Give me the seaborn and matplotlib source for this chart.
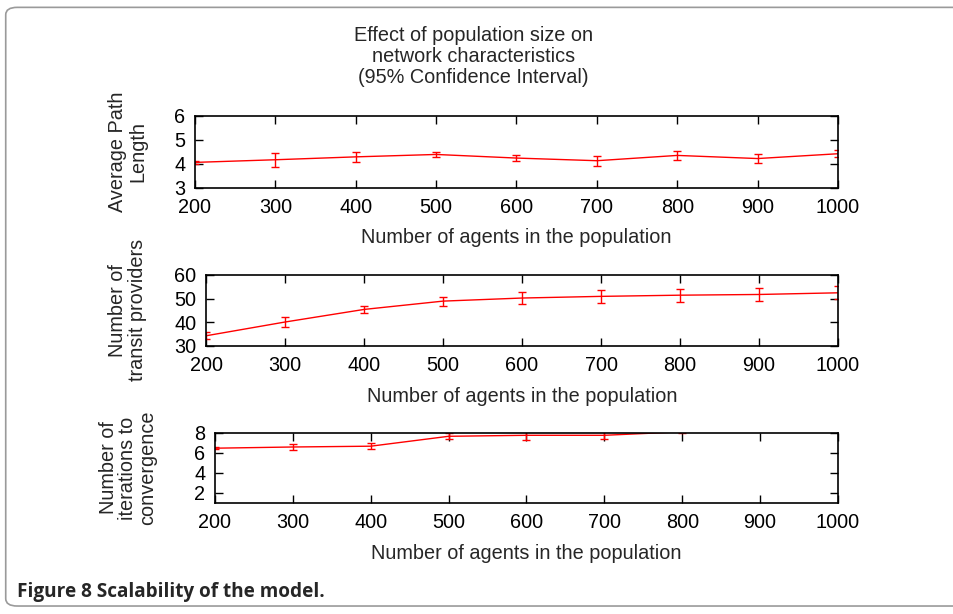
import numpy as np
import pandas as pd
import seaborn as sns
import matplotlib.pyplot as plt
from matplotlib.patches import FancyBboxPatch

# values
agents = [200, 300, 400, 500, 600, 700, 800, 900, 1000]

path_len = [4.06, 4.17, 4.29, 4.39, 4.24, 4.13, 4.35, 4.22, 4.42]
path_err = [0.06, 0.30, 0.21, 0.10, 0.12, 0.21, 0.17, 0.20, 0.15]

transit = [34.3, 40.1, 45.4, 48.9, 50.2, 50.9, 51.4, 51.7, 52.4]
transit_err = [1.5, 2.1, 1.6, 1.9, 2.4, 2.6, 2.7, 2.7, 2.8]

iters = [6.48, 6.60, 6.68, 7.67, 7.77, 7.77, 8.12, 8.50, 8.70]
iters_err = [0.10, 0.26, 0.28, 0.30, 0.45, 0.38, 0.10, 0.30, 0.30]

xticks = [200, 300, 400, 500, 600, 700, 800, 900, 1000]
xlab = "Number of agents in the population"

FS = 14.3

sns.set_theme(style="ticks")
plt.rcParams['font.family'] = ['Liberation Sans', 'DejaVu Sans']

fig = plt.figure(figsize=(9.54, 6.14), dpi=100)

# rounded frame around the figure
frame = FancyBboxPatch((0.006, 0.013), 1.2, 0.975, boxstyle="round,pad=0,rounding_size=0.012",
                       transform=fig.transFigure, fill=False, edgecolor="#9a9a9a", lw=1.2)
fig.patches.append(frame)

panels = [
    # axes rect, values, errors, ylim, yticks, ylabel
    ([0.2044, 0.6940, 0.6740, 0.1175], path_len, path_err, (3, 6), [3, 4, 5, 6],
     "Average Path\nLength"),
    ([0.2160, 0.4365, 0.6624, 0.1160], transit, transit_err, (30, 60), [30, 40, 50, 60],
     "Number of\ntransit providers"),
    ([0.2253, 0.1808, 0.6531, 0.1140], iters, iters_err, (1, 8), [2, 4, 6, 8],
     "Number of\niterations to\nconvergence"),
]

for rect, yv, ye, ylim, yt, ylab in panels:
    ax = fig.add_axes(rect)
    df = pd.DataFrame({"agents": agents, "val": yv, "err": ye})
    sns.lineplot(data=df, x="agents", y="val", color="red", lw=1.0, ax=ax)
    ax.errorbar(df["agents"], df["val"], yerr=df["err"], fmt="none", ecolor="red",
                elinewidth=1.0, capsize=3, capthick=1.0)
    ax.set_xlim(200, 1000)
    ax.set_ylim(*ylim)
    ax.set_xticks(xticks)
    ax.set_yticks(yt)
    ax.tick_params(axis="both", direction="in", top=True, right=True, length=6, width=1,
                   labelsize=FS, colors="black")
    ax.tick_params(axis="x", pad=7.5)
    ax.tick_params(axis="y", pad=7)
    for s in ax.spines.values():
        s.set_visible(True)
        s.set_linewidth(1.2)
        s.set_color("black")
    ax.set_xlabel(xlab, fontsize=FS, labelpad=8)
    ax.set_ylabel("")
    fig.text(0.134, rect[1] + rect[3] / 2, ylab, rotation=90, ha="center", va="center",
             fontsize=FS, linespacing=1.05)

fig.text(0.496, 0.908, "Effect of population size on\nnetwork characteristics\n(95% Confidence Interval)",
         ha="center", va="center", fontsize=FS, linespacing=1.15)

fig.text(0.018, 0.036, "Figure 8 Scalability of the model.", ha="left", va="center",
         fontsize=13.7, fontweight="bold", family=["Open Sans", "DejaVu Sans"])

fig.savefig("out.png", dpi=100)
